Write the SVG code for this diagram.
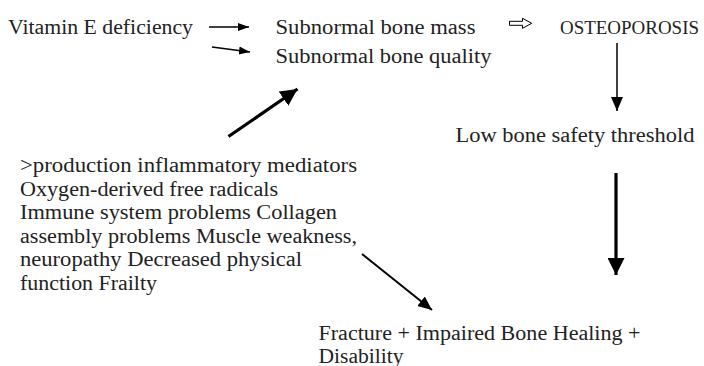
<svg xmlns="http://www.w3.org/2000/svg" width="704" height="366" viewBox="0 0 704 366">
<style>
text{font-family:"Liberation Serif","Times New Roman",serif;font-size:20px;fill:#222;}
.thin{stroke:#000;stroke-width:1.5;fill:none;}
.mid{stroke:#000;stroke-width:2;fill:none;}
.thick{stroke:#000;stroke-width:3.2;fill:none;}
</style>
<defs>
<marker id="ah-s" markerUnits="userSpaceOnUse" markerWidth="12" markerHeight="10" refX="11" refY="4" orient="auto" viewBox="0 0 12 8"><path d="M0,0 L11,4 L0,8 Z" fill="#000"/></marker>
<marker id="ah-m" markerUnits="userSpaceOnUse" markerWidth="15" markerHeight="13" refX="14" refY="6" orient="auto" viewBox="0 0 15 12"><path d="M0,0 L14,6 L0,12 Z" fill="#000"/></marker>
<marker id="ah-l" markerUnits="userSpaceOnUse" markerWidth="18" markerHeight="17" refX="17" refY="8.5" orient="auto" viewBox="0 0 18 17"><path d="M0,0 L17,8.5 L0,17 Z" fill="#000"/></marker>
</defs>
<g id="n-vitamin"><text x="8" y="34" textLength="185" lengthAdjust="spacingAndGlyphs">Vitamin E deficiency</text></g>
<g id="n-mass"><text x="275.5" y="34" textLength="200" lengthAdjust="spacingAndGlyphs">Subnormal bone mass</text></g>
<g id="n-quality"><text x="275.5" y="63" textLength="216" lengthAdjust="spacingAndGlyphs">Subnormal bone quality</text></g>
<g id="n-osteo"><text x="560" y="34" style="font-size:19px" textLength="139" lengthAdjust="spacingAndGlyphs">OSTEOPOROSIS</text></g>
<g id="n-threshold"><text x="455.5" y="141.5" textLength="239" lengthAdjust="spacingAndGlyphs">Low bone safety threshold</text></g>
<g id="n-factors">
<text x="20" y="172" textLength="337" lengthAdjust="spacingAndGlyphs">&gt;production inflammatory mediators</text>
<text x="20" y="195.5" textLength="258" lengthAdjust="spacingAndGlyphs">Oxygen-derived free radicals</text>
<text x="20" y="219" textLength="317" lengthAdjust="spacingAndGlyphs">Immune system problems Collagen</text>
<text x="20" y="242.5" textLength="337" lengthAdjust="spacingAndGlyphs">assembly problems Muscle weakness,</text>
<text x="20" y="266" textLength="282" lengthAdjust="spacingAndGlyphs">neuropathy Decreased physical</text>
<text x="20" y="289.5" textLength="137" lengthAdjust="spacingAndGlyphs">function Frailty</text>
</g>
<g id="n-fracture">
<text x="318.5" y="339.5" textLength="322" lengthAdjust="spacingAndGlyphs">Fracture + Impaired Bone Healing +</text>
<text x="318.5" y="363" textLength="85" lengthAdjust="spacingAndGlyphs">Disability</text>
</g>
<g id="connectors">
<line class="thin" x1="209" y1="27" x2="249" y2="27" marker-end="url(#ah-s)"/>
<line class="thin" x1="212" y1="47" x2="250" y2="52" marker-end="url(#ah-s)"/>
<path d="M509.5,21.3 H522.5 V18.3 L531.7,23.3 L522.5,28.3 V25.3 H509.5 Z" fill="#fff" stroke="#000" stroke-width="1"/>
<line class="thin" x1="617" y1="43" x2="617" y2="111" marker-end="url(#ah-m)"/>
<line class="thick" x1="228.5" y1="136.5" x2="297.5" y2="89" marker-end="url(#ah-l)"/>
<line class="thick" x1="616" y1="173" x2="616" y2="275" marker-end="url(#ah-l)"/>
<line class="mid" x1="362" y1="254" x2="432" y2="310" marker-end="url(#ah-m)"/>
</g>
</svg>
